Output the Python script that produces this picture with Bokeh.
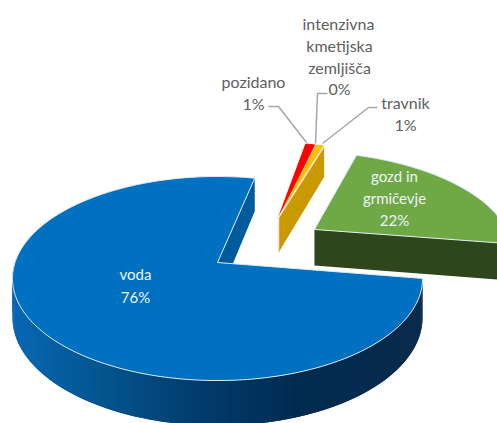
import numpy as np
from bokeh.plotting import figure
from bokeh.models import Range1d
from bokeh.core.properties import value
from bokeh.embed import file_html
from bokeh.resources import INLINE

categories = ["voda", "pozidano", "intenzivna kmetijska zemljišča", "travnik", "gozd in grmičevje"]
shares = [75.9, 0.85, 0.2, 0.75, 22.3]
percent_labels = ["76%", "1%", "0%", "1%", "22%"]

top_colors = ["#0070c0", "#ff0000", "#fbdcd8", "#ffc000", "#6fa945"]
wall_colors = ["#005a9c", "#b00000", "#f8d8d4", "#c99a00", "#2f451b"]
explode_uv = [(0, 0), (0.324, 0.487), (0.324, 0.487), (0.324, 0.487), (0.505, 0.35)]

START = 99.0
CX, CY, B, A, K, D = 217.0, 262.0, 202.5, 99.5, 0.157, 38.0


def project(u, v, z=0.0):
    s = 1.0 / (1.0 + K * v)
    return CX + B * u * s, CY - A * v * s + D * z * s


def slice_geom(th0, th1, ex):
    deg = np.linspace(th0, th1, max(3, int(abs(th1 - th0)) + 2))
    th = np.radians(deg)
    return np.sin(th) + ex[0], np.cos(th) + ex[1], deg


def lerp_color(stops, t):
    ts = [s[0] for s in stops]
    rgb = [np.interp(t, ts, [int(s[1][i:i + 2], 16) for s in stops]) for i in (1, 3, 5)]
    return "#%02x%02x%02x" % tuple(int(c) for c in rgb)


blue_stops = [(15, "#0867b2"), (100, "#04558f"), (200, "#013c6c"), (300, "#012b50"), (420, "#0b2c4c")]

p = figure(width=497, height=423, x_range=Range1d(0, 497), y_range=Range1d(423, 0),
           output_backend="svg", toolbar_location=None, min_border=0)
p.axis.visible = False
p.grid.visible = False
p.outline_line_color = None

angles = np.cumsum([0] + [s * 3.6 for s in shares]) + START

wall_x, wall_y, wall_c = [], [], []
top_x, top_y, top_c, top_l = [], [], [], []
edge_x, edge_y = [], []

for i in [0, 2, 1, 3, 4]:
    ex = explode_uv[i]
    th0, th1 = angles[i], angles[i + 1]
    u, v, deg = slice_geom(th0, th1, ex)
    n = len(u)
    # curved outer wall, strips overlap the next one so that no seams show
    for j in range(n - 1):
        if np.cos(np.radians(deg[j])) < 0.02:
            k = min(j + 2, n - 1)
            xa, ya0 = project(u[j], v[j]); _, ya1 = project(u[j], v[j], 1)
            xb, yb0 = project(u[k], v[k]); _, yb1 = project(u[k], v[k], 1)
            c = lerp_color(blue_stops, (xa + xb) / 2) if i == 0 else wall_colors[i]
            wall_x.append([xa, xb, xb, xa]); wall_y.append([ya0, yb0, yb1, ya1]); wall_c.append(c)
    # flat cut wall that faces the viewer
    ax, ay0 = project(*ex); _, ay1 = project(ex[0], ex[1], 1)
    rx, ry0 = project(u[-1], v[-1]); _, ry1 = project(u[-1], v[-1], 1)
    wall_x.append([ax, rx, rx, ax]); wall_y.append([ay0, ry0, ry1, ay1]); wall_c.append(wall_colors[i])
    sx, sy = project(np.r_[ex[0], u], np.r_[ex[1], v])
    top_x.append(list(sx)); top_y.append(list(sy)); top_c.append(top_colors[i])
    top_l.append("#dfeaf5" if i in (0, 4) else top_colors[i])
    if i == 3:
        # pale edges of the small exploded group
        edge_x.append([ax, ax, rx]); edge_y.append([ay1, ay0, ry0])

p.patches(wall_x, wall_y, fill_color=wall_c, line_color=None)
p.patches(top_x, top_y, fill_color=top_c, line_color=top_l, line_width=1.0)
p.multi_line(edge_x, edge_y, line_color="#fbe3dc", line_width=1.6)

# leader lines
leaders = [([268, 278, 306], [106, 106, 142]),
           ([327, 317, 315], [93, 93, 143]),
           ([377, 368, 322], [107, 107, 143])]
for lx, ly in leaders:
    p.line(lx, ly, line_color="#a6a6a6", line_width=1.5)

outer_text = ["intenzivna", "kmetijska", "zemljišča", percent_labels[2], "pozidano", percent_labels[1],
              "travnik", percent_labels[3]]
outer_x = [338, 339, 339, 339, 253, 253, 405, 405]
outer_y = [23, 45, 67, 88, 81, 103, 102, 124]
inner_text = ["voda", percent_labels[0], "gozd in", "grmičevje", percent_labels[4]]
inner_x = [135, 135, 394, 394, 394]
inner_y = [273, 296, 175, 197, 219]

p.text(outer_x, outer_y, text=outer_text, text_color="#5e5e5e", text_align="center", text_baseline="middle",
       text_font=value("Lato"), text_font_size="16px")
p.text(inner_x, inner_y, text=inner_text, text_color="#eef4fa", text_align="center", text_baseline="middle",
       text_font=value("Lato"), text_font_size="15px")

open("out.html", "w").write(file_html(p, INLINE))
